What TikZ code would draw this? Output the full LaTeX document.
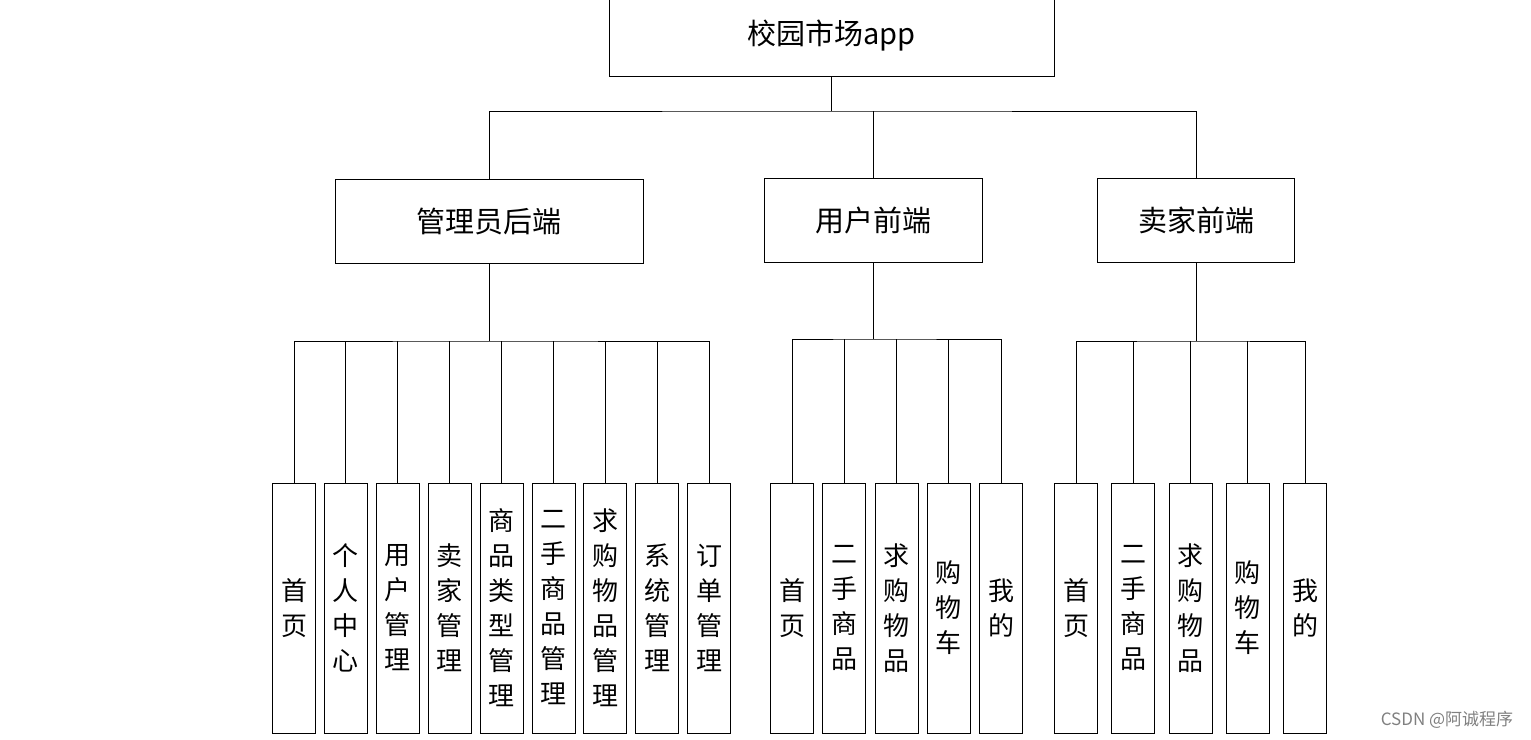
\documentclass[tikz,border=0pt]{standalone}
\usepackage{fontspec}
\setmainfont{Noto Sans CJK SC}
\usetikzlibrary{calc}
\tikzset{
  box/.style={draw, line width=1pt, minimum height=84pt, inner sep=0pt, font=\fontsize{29}{34}\selectfont},
  leaf/.style={draw, line width=1pt, minimum width=43pt, minimum height=250pt, inner sep=0pt, align=center, font=\fontsize{26}{35}\selectfont},
  link/.style={line width=1pt}
}
\begin{document}
\begin{tikzpicture}[x=1pt,y=-1pt]
\useasboundingbox (0,0) rectangle (1531,739);
\node[box, minimum width=445pt, minimum height=80pt] (root) at (831.5,36) {校园市场app};
\node[box, minimum width=308pt] (adm) at (489,221) {管理员后端};
\node[box, minimum width=218pt] (usr) at (873,220) {用户前端};
\node[box, minimum width=197pt] (sel) at (1196,220) {卖家前端};
% top level
\draw[link] (root.south) -- (root.south |- 0,111) coordinate (b0);
\draw[link] (adm.north) |- (b0) -| (sel.north);
\draw[link] (usr.north) -- (usr.north |- b0);
% admin side
\foreach \t [count=\i] in {{首\\页},{个\\人\\中\\心},{用\\户\\管\\理},{卖\\家\\管\\理},{商\\品\\类\\型\\管\\理},{二\\手\\商\\品\\管\\理},{求\\购\\物\\品\\管\\理},{系\\统\\管\\理},{订\\单\\管\\理}}
  \node[leaf] (a\i) at ({294+51.9*(\i-1)},608) {\t};
\draw[link] (adm.south) -- (adm.south |- 0,341) coordinate (b1);
\draw[link] (a1.north) |- (b1) -| (a9.north);
\foreach \i in {2,...,8}
  \draw[link] (a\i.north) -- (a\i.north |- b1);
% user side
\foreach \t [count=\i] in {{首\\页},{二\\手\\商\\品},{求\\购\\物\\品},{购\\物\\车},{我\\的}}
  \node[leaf] (u\i) at ({792+52.3*(\i-1)},608) {\t};
\draw[link] (usr.south) -- (usr.south |- 0,339) coordinate (b2);
\draw[link] (u1.north) |- (b2) -| (u5.north);
\foreach \i in {2,...,4}
  \draw[link] (u\i.north) -- (u\i.north |- b2);
% seller side
\foreach \t [count=\i] in {{首\\页},{二\\手\\商\\品},{求\\购\\物\\品},{购\\物\\车},{我\\的}}
  \node[leaf] (s\i) at ({1076+57.25*(\i-1)},608) {\t};
\draw[link] (sel.south) -- (sel.south |- 0,341) coordinate (b3);
\draw[link] (s1.north) |- (b3) -| (s5.north);
\foreach \i in {2,...,4}
  \draw[link] (s\i.north) -- (s\i.north |- b3);
\node[text=gray, font=\fontsize{17}{17}\selectfont] (mark) at (1447,720) {CSDN @阿诚程序};
\end{tikzpicture}
\end{document}
